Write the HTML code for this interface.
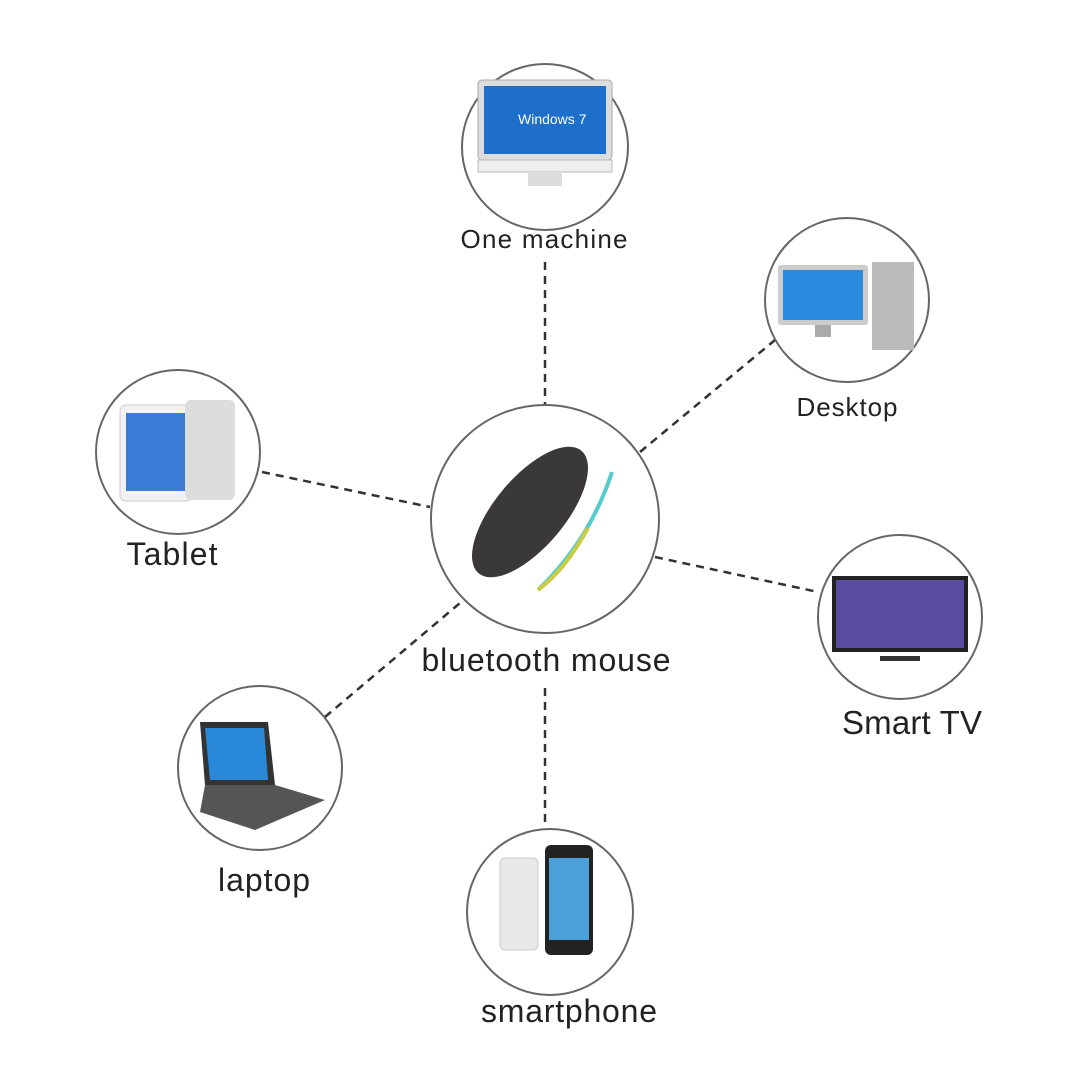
<!DOCTYPE html>
<html><head><meta charset="utf-8"><style>
html,body{margin:0;padding:0;background:#fff}
svg text{font-family:"Liberation Sans",sans-serif;fill:#222}
</style></head><body>
<svg width="1079" height="1079" viewBox="0 0 1079 1079" xmlns="http://www.w3.org/2000/svg">
<rect width="1079" height="1079" fill="#fff"/>
<g stroke="#333" stroke-width="2.5" stroke-dasharray="8,6" fill="none">
<line x1="545" y1="262" x2="545" y2="405"/>
<line x1="640" y1="452" x2="775" y2="340"/>
<line x1="262" y1="472" x2="430" y2="507"/>
<line x1="655" y1="557" x2="818" y2="592"/>
<line x1="325" y1="717" x2="460" y2="603"/>
<line x1="545" y1="688" x2="545" y2="825"/>
</g>
<g stroke="#666" stroke-width="2" fill="#fff">
<circle cx="545" cy="147" r="83"/>
<circle cx="847" cy="300" r="82"/>
<circle cx="178" cy="452" r="82"/>
<circle cx="545" cy="519" r="114"/>
<circle cx="900" cy="617" r="82"/>
<circle cx="260" cy="768" r="82"/>
<circle cx="550" cy="912" r="83"/>
</g>
<rect x="478" y="80" width="134" height="80" rx="4" fill="#ddd" stroke="#aaa"/>
<rect x="484" y="86" width="122" height="68" fill="#1d6fc9"/>
<text x="518" y="124" font-size="14" style="fill:#fff">Windows 7</text>
<rect x="478" y="160" width="134" height="12" fill="#eee" stroke="#bbb"/>
<rect x="528" y="172" width="34" height="14" fill="#ddd"/>
<rect x="778" y="265" width="90" height="60" rx="3" fill="#ccc"/>
<rect x="783" y="270" width="80" height="50" fill="#2a8ae0"/>
<rect x="815" y="325" width="16" height="12" fill="#aaa"/>
<rect x="872" y="262" width="42" height="88" fill="#bbb"/>
<rect x="120" y="405" width="72" height="96" rx="6" fill="#f2f2f2" stroke="#ccc"/>
<rect x="126" y="413" width="60" height="78" fill="#3a7bd5"/>
<rect x="185" y="400" width="50" height="100" rx="6" fill="#ddd"/>
<ellipse cx="530" cy="512" rx="80" ry="35" transform="rotate(-50 530 512)" fill="#3a3838"/>
<path d="M612 472 Q590 540 538 590" stroke="#5cc" stroke-width="4" fill="none"/>
<path d="M588 528 Q565 570 538 590" stroke="#cc4" stroke-width="4" fill="none"/>
<rect x="832" y="576" width="136" height="76" fill="#222"/>
<rect x="836" y="580" width="128" height="68" fill="#5a4aa0"/>
<rect x="880" y="656" width="40" height="5" fill="#333"/>
<path d="M200 722 L268 722 L275 785 L205 785 Z" fill="#333"/>
<path d="M205 728 L264 728 L268 780 L210 780 Z" fill="#2a88d8"/>
<path d="M205 785 L275 785 L325 800 L255 830 L200 812 Z" fill="#555"/>
<rect x="500" y="858" width="38" height="92" rx="5" fill="#e8e8e8" stroke="#ccc"/>
<rect x="545" y="845" width="48" height="110" rx="6" fill="#222"/>
<rect x="549" y="858" width="40" height="82" fill="#4aa0d8"/>
<g text-anchor="middle">
<text x="544" y="248" font-size="26" textLength="167">One machine</text>
<text x="847" y="416" font-size="26" textLength="101">Desktop</text>
<text x="172" y="565" font-size="32" textLength="91">Tablet</text>
<text x="546" y="671" font-size="32" textLength="249">bluetooth mouse</text>
<text x="912" y="734" font-size="33" textLength="140">Smart TV</text>
<text x="264" y="891" font-size="32" textLength="92">laptop</text>
<text x="569" y="1022" font-size="32" textLength="176">smartphone</text>
</g>
</svg>
</body></html>
